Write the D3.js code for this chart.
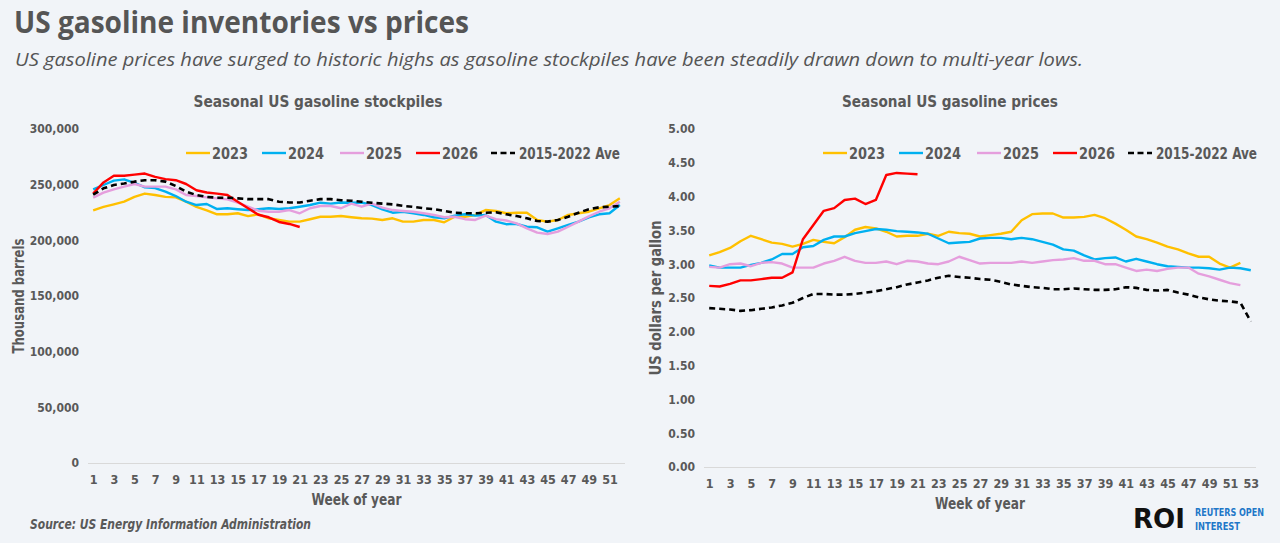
<!DOCTYPE html>
<html>
<head>
<meta charset="utf-8">
<title>US gasoline inventories vs prices</title>
<script src="https://d3js.org/d3.v7.min.js"></script>
<style>
  body { margin: 0; background: #f1f4f8; }
  svg { display: block; }
</style>
</head>
<body>
<script>
// ---- data ----
var seriesNames = ["2023", "2024", "2025", "2026", "2015-2022 Ave"];
var seriesColors = ["#ffc000", "#00b0f0", "#e59edd", "#ff0000", "#000000"];

var stockTicks = [0, 50000, 100000, 150000, 200000, 250000, 300000];
var priceTicks = [0, 0.5, 1, 1.5, 2, 2.5, 3, 3.5, 4, 4.5, 5];

// thousand barrels
var stock2023 = [227000, 230000, 232300, 234700, 239000, 242000, 240700, 239000, 238600, 234700, 230000, 227000, 223400, 223400, 224300, 221800, 223400, 219800, 218300, 216800, 216800, 218900, 221200, 221200, 221800, 220700, 219800, 219500, 218300, 219800, 216800, 216800, 218300, 218300, 216200, 221200, 221200, 222800, 227200, 226400, 224300, 224800, 224800, 218300, 216800, 218300, 222800, 224300, 225700, 228800, 231700, 237700];
var stock2024 = [245800, 249700, 253600, 254800, 251700, 247600, 247000, 243700, 239800, 234700, 231700, 232600, 228100, 228800, 227900, 227200, 227900, 228800, 228100, 228800, 230200, 231700, 233800, 233000, 234000, 233800, 234000, 231700, 227900, 224800, 225700, 224300, 222800, 220700, 219800, 222200, 223400, 222200, 222800, 216800, 214500, 214700, 212200, 211700, 207800, 210800, 213800, 216800, 220700, 223400, 224300, 231700];
var stock2025 = [238300, 242800, 245800, 248200, 250600, 248200, 248200, 248200, 245800, 240700, 239800, 238600, 237700, 236800, 233800, 230200, 226600, 225700, 225700, 227200, 224300, 228800, 230800, 230800, 228800, 233000, 230200, 233000, 229400, 227200, 226400, 225700, 224300, 222800, 220700, 221200, 219000, 218300, 222200, 219000, 217800, 215300, 210800, 206900, 205700, 207800, 212200, 216800, 221500, 225700, 228800, 234700];
var stock2026 = [242000, 252000, 258000, 258000, 259000, 260000, 257000, 255000, 254000, 250600, 245000, 243000, 242000, 240700, 234700, 228800, 223000, 220700, 216500, 214700, 212000];
var stockAvg = [241000, 246700, 249700, 251000, 252700, 254000, 254000, 252700, 248800, 243700, 240700, 239000, 238300, 238300, 237700, 237000, 237000, 237000, 234700, 234000, 234000, 235600, 237000, 237000, 236000, 235600, 234700, 233800, 233000, 232300, 231000, 230000, 228800, 228000, 226400, 224800, 224300, 224300, 224800, 225200, 223400, 221800, 219800, 217400, 216800, 218300, 221200, 224800, 228000, 229700, 230200, 230800];

// US dollars per gallon
var price2023 = [3.13, 3.18, 3.24, 3.34, 3.42, 3.37, 3.32, 3.30, 3.26, 3.30, 3.36, 3.33, 3.31, 3.40, 3.51, 3.55, 3.53, 3.48, 3.41, 3.42, 3.42, 3.45, 3.42, 3.48, 3.46, 3.45, 3.41, 3.43, 3.45, 3.48, 3.65, 3.74, 3.75, 3.75, 3.69, 3.69, 3.70, 3.73, 3.68, 3.60, 3.51, 3.41, 3.37, 3.32, 3.26, 3.22, 3.16, 3.11, 3.11, 3.01, 2.95, 3.02];
var price2024 = [2.98, 2.95, 2.95, 2.95, 2.99, 3.02, 3.07, 3.15, 3.15, 3.25, 3.27, 3.36, 3.41, 3.41, 3.46, 3.49, 3.52, 3.51, 3.49, 3.48, 3.47, 3.45, 3.38, 3.31, 3.32, 3.33, 3.38, 3.39, 3.39, 3.37, 3.39, 3.37, 3.33, 3.29, 3.22, 3.20, 3.13, 3.07, 3.09, 3.10, 3.04, 3.08, 3.04, 3.00, 2.97, 2.96, 2.95, 2.95, 2.94, 2.92, 2.95, 2.94, 2.91];
var price2025 = [2.96, 2.95, 3.00, 3.01, 2.97, 3.02, 3.03, 3.01, 2.95, 2.95, 2.95, 3.01, 3.05, 3.11, 3.05, 3.02, 3.02, 3.04, 3.00, 3.05, 3.04, 3.01, 3.00, 3.04, 3.11, 3.06, 3.01, 3.02, 3.02, 3.02, 3.04, 3.02, 3.04, 3.06, 3.07, 3.09, 3.05, 3.05, 3.00, 3.00, 2.95, 2.90, 2.92, 2.90, 2.93, 2.95, 2.95, 2.86, 2.82, 2.77, 2.72, 2.69];
var price2026 = [2.68, 2.67, 2.71, 2.76, 2.76, 2.78, 2.80, 2.80, 2.88, 3.37, 3.58, 3.79, 3.83, 3.95, 3.97, 3.89, 3.95, 4.32, 4.35, 4.34, 4.33];
var priceAvg = [2.35, 2.34, 2.33, 2.31, 2.32, 2.34, 2.36, 2.39, 2.43, 2.50, 2.56, 2.56, 2.55, 2.55, 2.56, 2.58, 2.60, 2.63, 2.66, 2.70, 2.73, 2.76, 2.80, 2.83, 2.81, 2.80, 2.78, 2.77, 2.74, 2.70, 2.68, 2.66, 2.65, 2.63, 2.63, 2.64, 2.63, 2.62, 2.62, 2.63, 2.66, 2.65, 2.62, 2.61, 2.62, 2.58, 2.55, 2.51, 2.48, 2.46, 2.45, 2.43, 2.15];

var stockWeeks = d3.range(1, 53);   // 1..52
var priceWeeks = d3.range(1, 54);   // 1..53

var FONT = "'Liberation Sans Narrow','DejaVu Sans Condensed','Roboto Condensed',sans-serif";
var GREY = "#595959";

var svg = d3.select("body").append("svg")
  .attr("width", 1280).attr("height", 543);

svg.append("rect").attr("width", 1280).attr("height", 543).attr("fill", "#f1f4f8");

// headline
svg.append("text")
  .attr("x", 14).attr("y", 33)
  .attr("font-family", "'Open Sans','DejaVu Sans',sans-serif")
  .attr("font-weight", 700).attr("font-size", 30)
  .attr("fill", "#555")
  .attr("textLength", 455).attr("lengthAdjust", "spacingAndGlyphs")
  .text("US gasoline inventories vs prices");

svg.append("text")
  .attr("x", 15).attr("y", 66)
  .attr("font-family", "'Open Sans','DejaVu Sans',sans-serif")
  .attr("font-style", "italic").attr("font-size", 19)
  .attr("fill", "#555")
  .attr("textLength", 1068).attr("lengthAdjust", "spacingAndGlyphs")
  .text("US gasoline prices have surged to historic highs as gasoline stockpiles have been steadily drawn down to multi-year lows.");

function drawPanel(cfg) {
  var g = svg.append("g");

  var x = d3.scalePoint().domain(cfg.weeks).range([cfg.x0, cfg.x1]).padding(0.5);
  var y = d3.scaleLinear().domain([0, cfg.yMax]).range([cfg.y0, cfg.y1]);

  // title
  g.append("text")
    .attr("x", cfg.titleX).attr("y", 107)
    .attr("text-anchor", "middle")
    .attr("font-family", FONT).attr("font-weight", 700).attr("font-size", 16.5)
    .attr("fill", GREY)
    .attr("textLength", cfg.titleW).attr("lengthAdjust", "spacingAndGlyphs")
    .text(cfg.title);

  // y axis (labels only)
  var yAxis = g.append("g")
    .attr("transform", "translate(" + (cfg.x0 - 9) + ",0)")
    .call(d3.axisLeft(y).tickValues(cfg.yTicks).tickFormat(cfg.fmt).tickSize(0).tickPadding(0));
  yAxis.select(".domain").remove();
  yAxis.selectAll("text")
    .attr("font-family", FONT).attr("font-weight", 700).attr("font-size", 12)
    .attr("fill", GREY);

  // x axis
  var xAxis = g.append("g")
    .attr("transform", "translate(0," + cfg.y0 + ")")
    .call(d3.axisBottom(x).tickValues(cfg.weeks.filter(function (w) { return w % 2 === 1; }))
      .tickSize(0).tickPadding(12));
  xAxis.select(".domain").attr("stroke", "#d9d9d9").attr("stroke-width", 1)
    .attr("d", "M" + cfg.x0 + ",0.5H" + cfg.x1);
  xAxis.selectAll("text")
    .attr("font-family", FONT).attr("font-weight", 700).attr("font-size", 12.5)
    .attr("fill", GREY);

  // axis titles
  g.append("text")
    .attr("x", (cfg.x0 + cfg.x1) / 2).attr("y", cfg.y0 + 42)
    .attr("text-anchor", "middle")
    .attr("font-family", FONT).attr("font-weight", 700).attr("font-size", 16)
    .attr("fill", GREY)
    .attr("textLength", 90).attr("lengthAdjust", "spacingAndGlyphs")
    .text("Week of year");

  g.append("text")
    .attr("transform", "translate(" + cfg.yTitleX + "," + ((cfg.y0 + cfg.y1) / 2) + ") rotate(-90)")
    .attr("text-anchor", "middle")
    .attr("font-family", FONT).attr("font-weight", 700).attr("font-size", 15)
    .attr("fill", GREY)
    .attr("textLength", cfg.yTitleW).attr("lengthAdjust", "spacingAndGlyphs")
    .text(cfg.yTitle);

  // lines
  var line = d3.line()
    .x(function (d, i) { return x(cfg.weeks[i]); })
    .y(function (d) { return y(d); });

  cfg.series.forEach(function (s, k) {
    g.append("path")
      .datum(s)
      .attr("fill", "none")
      .attr("stroke", seriesColors[k])
      .attr("stroke-width", k === 4 ? 2.6 : 2.4)
      .attr("stroke-dasharray", k === 4 ? "6,4" : null)
      .attr("stroke-linejoin", "round")
      .attr("d", line);
  });

  // legend
  var lg = g.append("g").attr("transform", "translate(" + cfg.legendX + ",153)");
  var offs = [0, 76, 154, 230, 305];
  seriesNames.forEach(function (name, k) {
    var item = lg.append("g").attr("transform", "translate(" + offs[k] + ",0)");
    item.append("line")
      .attr("x1", 0).attr("x2", 24).attr("y1", 0).attr("y2", 0)
      .attr("stroke", seriesColors[k]).attr("stroke-width", 2.4)
      .attr("stroke-dasharray", k === 4 ? "6,3.5" : null);
    item.append("text")
      .attr("x", k === 4 ? 28 : 26).attr("y", 5.5)
      .attr("font-family", FONT).attr("font-weight", 700).attr("font-size", 16)
      .attr("fill", GREY)
      .attr("textLength", k === 4 ? 101 : 36).attr("lengthAdjust", "spacingAndGlyphs")
      .text(name);
  });
}

drawPanel({
  title: "Seasonal US gasoline stockpiles", titleX: 318, titleW: 249,
  weeks: stockWeeks, x0: 88, x1: 625, y0: 463, y1: 129, yMax: 300000,
  yTicks: stockTicks, fmt: d3.format(","),
  yTitle: "Thousand barrels", yTitleX: 24, yTitleW: 115,
  series: [stock2023, stock2024, stock2025, stock2026, stockAvg],
  legendX: 186
});

drawPanel({
  title: "Seasonal US gasoline prices", titleX: 950, titleW: 216,
  weeks: priceWeeks, x0: 704, x1: 1256, y0: 467, y1: 129, yMax: 5,
  yTicks: priceTicks, fmt: d3.format(".2f"),
  yTitle: "US dollars per gallon", yTitleX: 661, yTitleW: 155,
  series: [price2023, price2024, price2025, price2026, priceAvg],
  legendX: 823
});

// footer
svg.append("text")
  .attr("x", 30).attr("y", 529)
  .attr("font-family", FONT).attr("font-style", "italic").attr("font-weight", 700).attr("font-size", 14)
  .attr("fill", GREY)
  .attr("textLength", 281).attr("lengthAdjust", "spacingAndGlyphs")
  .text("Source:  US Energy Information Administration");

svg.append("text")
  .attr("x", 1133).attr("y", 528)
  .attr("font-family", FONT).attr("font-weight", 700).attr("font-size", 27)
  .attr("fill", "#111")
  .attr("textLength", 52).attr("lengthAdjust", "spacingAndGlyphs")
  .text("ROI");
svg.append("text")
  .attr("x", 1195).attr("y", 516)
  .attr("font-family", "'DejaVu Sans Condensed','Roboto',sans-serif").attr("font-size", 11)
  .attr("font-weight", 700)
  .attr("fill", "#1f78c8")
  .attr("textLength", 69).attr("lengthAdjust", "spacingAndGlyphs")
  .text("REUTERS OPEN");
svg.append("text")
  .attr("x", 1195).attr("y", 530)
  .attr("font-family", "'DejaVu Sans Condensed','Roboto',sans-serif").attr("font-size", 11)
  .attr("font-weight", 700)
  .attr("fill", "#1f78c8")
  .attr("textLength", 45).attr("lengthAdjust", "spacingAndGlyphs")
  .text("INTEREST");
</script>
</body>
</html>
